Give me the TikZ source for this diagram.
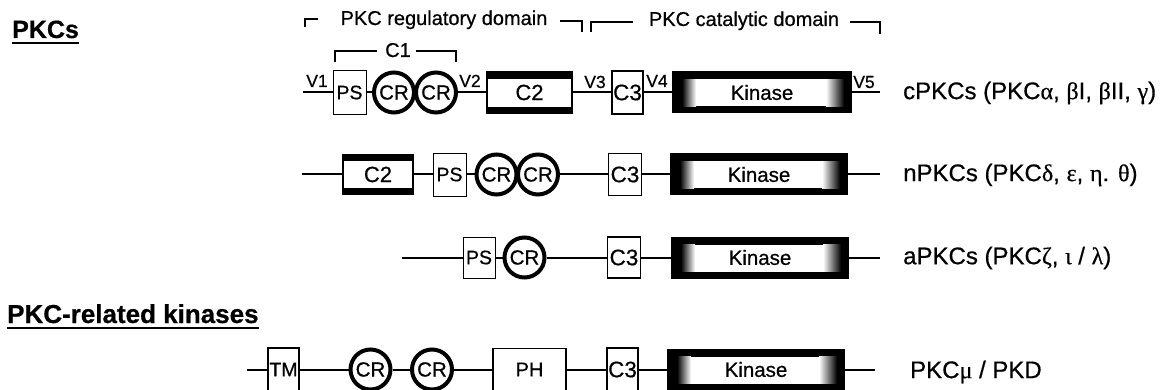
\documentclass[tikz,border=0pt]{standalone}
\usepackage{fontspec}
\setmainfont{Liberation Sans}[FakeBold=0.6]
\newfontfamily\grk{Liberation Serif}[FakeBold=0.6]
\usetikzlibrary{positioning}

\begin{document}
\begin{tikzpicture}[x=1pt,y=-1pt,
  link/.style={line width=2},
  brk/.style={line width=1.6},
  dom/.style={draw,line width=1.2,fill=white,inner sep=0pt,minimum width=31,minimum height=43,font=\fontsize{22.5}{23}\selectfont},
  psbox/.style={dom,line width=0.8,minimum width=33,minimum height=43,font=\fontsize{19.5}{20}\selectfont},
  crcirc/.style={circle,draw,line width=4,fill=white,inner sep=0pt,minimum size=40,font=\fontsize{20.5}{21}\selectfont},
  c2box/.style={dom,line width=1.5,minimum width=85,minimum height=41,font=\fontsize{22}{23}\selectfont,path picture={
    \fill[black] ([yshift=-7pt]path picture bounding box.north west) rectangle (path picture bounding box.north east);
    \fill[black] (path picture bounding box.south west) rectangle ([yshift=6pt]path picture bounding box.south east);}},
  kinbox/.style={fill=black,inner sep=0pt,minimum width=180,minimum height=42,font=\fontsize{20.5}{21}\selectfont,path picture={
    \fill[white] ([xshift=24pt,yshift=-8pt]path picture bounding box.north west) rectangle ([xshift=-26pt,yshift=7pt]path picture bounding box.south east);
    \shade[left color=black,right color=white] ([xshift=10pt,yshift=-8pt]path picture bounding box.north west) rectangle ([xshift=24pt,yshift=7pt]path picture bounding box.south west);
    \shade[left color=white,right color=black] ([xshift=-26pt,yshift=-8pt]path picture bounding box.north east) rectangle ([xshift=-8pt,yshift=7pt]path picture bounding box.south east);}},
  vlbl/.style={anchor=base,inner sep=0pt,font=\fontsize{17.5}{18}\selectfont},
  famlbl/.style={anchor=west,inner sep=0pt,font=\fontsize{24}{25}\selectfont},
  head/.style={anchor=base west,inner sep=0pt,font=\fontsize{25}{26}\selectfont\bfseries},
  domlbl/.style={anchor=base,inner sep=0pt,font=\fontsize{20}{21}\selectfont}]
  \useasboundingbox (0,0) rectangle (1167,390);
  \clip (0,0) rectangle (1167,390);
  \node[head] (hdpkc) at (12,38) {PKCs};
  \draw[line width=2.5] ([yshift=-5]hdpkc.base west) -- ([yshift=-5]hdpkc.base east);
  \node[head,font=\fontsize{26}{28}\selectfont\bfseries] (hdrel) at (7,323) {PKC-related kinases};
  \draw[line width=2.5] ([yshift=-5]hdrel.base west) -- ([yshift=-5]hdrel.base east);
  \node[domlbl] (reglbl) at (444,25) {PKC regulatory domain};
  \draw[brk] (305,27) -- (305,19) -- (318,19);
  \draw[brk] (560,21) -- (582,21) -- (582,32);
  \node[domlbl] (catlbl) at (744,26) {PKC catalytic domain};
  \draw[brk] (591,32) -- (591,22) -- (633,22);
  \draw[brk] (850,22) -- (880,22) -- (880,34);
  \node[domlbl] (c1lbl) at (398,57) {C1};
  \draw[brk] (335,62) -- (335,51) -- (377,51);
  \draw[brk] (416,51) -- (456,51) -- (456,62);
  \coordinate (r1s) at (303,92.5);
  \node[psbox,minimum height=44] (ps1) at (349.5,92.5) {PS};
  \node[crcirc] (cr1a) at (394,92.5) {CR};
  \node[crcirc] (cr1b) at (436,92.5) {CR};
  \node[c2box] (c2a) at (529.5,92.5) {C2};
  \node[dom] (c3a) at (627.5,92.5) {C3};
  \node[kinbox] (kin1) at (762,92.5) {Kinase};
  \coordinate (r1e) at (880,92.5);
  \draw[link] (r1s) -- (ps1) -- (cr1a);
  \draw[link] (cr1b) -- (c2a) -- (c3a) -- (kin1) -- (r1e);
  \node[vlbl] (v1) at (317,87) {V1};
  \node[vlbl] (v2) at (470,87) {V2};
  \node[vlbl] (v3) at (595,88) {V3};
  \node[vlbl] (v4) at (657,87) {V4};
  \node[vlbl] (v5) at (864,88) {V5};
  \node[famlbl] (fam1) at (903,93) {cPKCs (PKC{\grk α}, {\grk β}I, {\grk β}II, {\grk γ})};
  \coordinate (r2s) at (302,174.5);
  \node[c2box,minimum width=70,minimum height=40] (c2b) at (378,174.5) {C2};
  \node[psbox] (ps2) at (449.5,174.5) {PS};
  \node[crcirc] (cr2a) at (496.5,174.5) {CR};
  \node[crcirc] (cr2b) at (538,174.5) {CR};
  \node[dom,minimum width=33,minimum height=42] (c3b) at (625,174.5) {C3};
  \node[kinbox,minimum width=178] (kin2) at (759,174.5) {Kinase};
  \coordinate (r2e) at (880,174.5);
  \draw[link] (r2s) -- (c2b) -- (ps2) -- (cr2a);
  \draw[link] (cr2b) -- (c3b) -- (kin2) -- (r2e);
  \node[famlbl] (fam2) at (903,175) {nPKCs (PKC{\grk δ}, {\grk ε}, {\grk η}. {\grk θ})};
  \coordinate (r3s) at (402,257.5);
  \node[psbox,minimum width=32,minimum height=41] (ps3) at (479,257.5) {PS};
  \node[crcirc] (cr3) at (524.5,257.5) {CR};
  \node[dom,minimum width=33,minimum height=41] (c3c) at (624,257.5) {C3};
  \node[kinbox,minimum width=178] (kin3) at (760,257.5) {Kinase};
  \coordinate (r3e) at (880,257.5);
  \draw[link] (r3s) -- (ps3) -- (cr3) -- (c3c) -- (kin3) -- (r3e);
  \node[famlbl] (fam3) at (903,258) {aPKCs (PKC{\grk ζ}, {\grk ι} / {\grk λ})};
  \coordinate (r4s) at (247,369.5);
  \node[dom,font=\fontsize{19.5}{20}\selectfont] (tm) at (283.5,369.5) {TM};
  \node[crcirc] (cr4a) at (370.5,369.5) {CR};
  \node[crcirc] (cr4b) at (432,369.5) {CR};
  \node[dom,minimum width=73,minimum height=42,font=\fontsize{20}{21}\selectfont] (ph) at (529.5,369.5) {PH};
  \node[dom] (c3d) at (622.5,369.5) {C3};
  \node[kinbox,minimum width=178] (kin4) at (756,369.5) {Kinase};
  \coordinate (r4e) at (875,369.5);
  \draw[link] (r4s) -- (tm) -- (cr4a) -- (cr4b) -- (ph) -- (c3d) -- (kin4) -- (r4e);
  \node[famlbl] (fam4) at (910,372) {PKC{\grk μ} / PKD};
\end{tikzpicture}
\end{document}
